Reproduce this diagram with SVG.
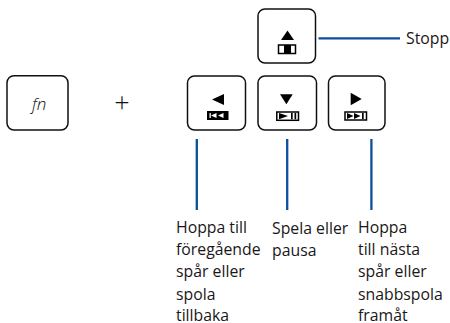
<svg xmlns="http://www.w3.org/2000/svg" width="450" height="323" viewBox="0 0 450 323">
<style>
.key{fill:#fff;stroke:#111;stroke-width:1.5}
.g{fill:#000;stroke:none}
.b{fill:#fff;stroke:#000;stroke-width:1.5}
.c{fill:none;stroke:#0b4f9e;stroke-width:2.3}
text{font-family:"Open Sans","Noto Sans",sans-serif;font-size:15.8px;fill:#1a1718}
</style>
<rect width="450" height="323" fill="#fff"/>
<g id="connectors">
<path class="c" d="M318.500 38.300H400"/>
<path class="c" d="M196.800 139V210"/>
<path class="c" d="M287.200 139V210"/>
<path class="c" d="M371.400 139V210"/>
</g>
<g id="key-fn">
<rect class="key" x="7" y="75.700" width="61" height="54.300" rx="7"/>
<text x="32" y="110" style="font-style:italic;font-size:17px;font-weight:300;fill:#111">fn</text>
</g>
<g id="plus"><text x="122" y="112" style="font-size:27px;font-weight:300;text-anchor:middle;fill:#111">+</text></g>
<g id="key-stop">
<rect class="key" x="258" y="9" width="57.500" height="54" rx="7"/>
<path class="g" d="M287.500 30.500L294 40H281Z"/>
<rect class="b" x="278.500" y="45" width="17" height="8.500"/>
<rect class="g" x="284" y="45" width="7" height="8.500"/>
</g>
<g id="key-prev">
<rect class="key" x="187.500" y="76" width="58" height="54" rx="7"/>
<path class="g" d="M212 99.500L224 94V105Z"/>
<rect class="g" x="207" y="111" width="21.500" height="9"/>
<path d="M209.500 113h1.300v5h-1.300zM211 115.500L216.500 113V118ZM218 115.500L223.500 113V118Z" fill="#fff"/>
</g>
<g id="key-play">
<rect class="key" x="258" y="76" width="58.500" height="54" rx="7"/>
<path class="g" d="M280 94.300H292.700L286.400 104.300Z"/>
<rect class="b" x="276.800" y="112" width="21.700" height="8.300"/>
<path class="g" d="M279 113L288 116.100L279 119.200ZM291 113h1.700v6.200H291ZM294.500 113h1.700v6.200H294.500Z"/>
</g>
<g id="key-next">
<rect class="key" x="328.500" y="76" width="56.500" height="54" rx="7"/>
<path class="g" d="M350.700 92.700L361.700 99L350.700 105.300Z"/>
<rect class="b" x="345" y="112" width="21.500" height="8"/>
<path class="g" d="M347 113L353.500 116L347 119ZM354 113L360.500 116L354 119ZM362 113h1.700v6H362Z"/>
</g>
<g id="label-stop"><text x="406" y="44">Stopp</text></g>
<g id="label-prev">
<text x="176" y="232.500">Hoppa till</text>
<text x="176" y="255">föregående</text>
<text x="176" y="277">spår eller</text>
<text x="176" y="299.500">spola</text>
<text x="176" y="321">tillbaka</text>
</g>
<g id="label-play">
<text x="272" y="234">Spela eller</text>
<text x="272" y="256">pausa</text>
</g>
<g id="label-next">
<text x="358" y="232.500">Hoppa</text>
<text x="358" y="255">till nästa</text>
<text x="358" y="277">spår eller</text>
<text x="358" y="299.500">snabbspola</text>
<text x="358" y="321">framåt</text>
</g>
</svg>
